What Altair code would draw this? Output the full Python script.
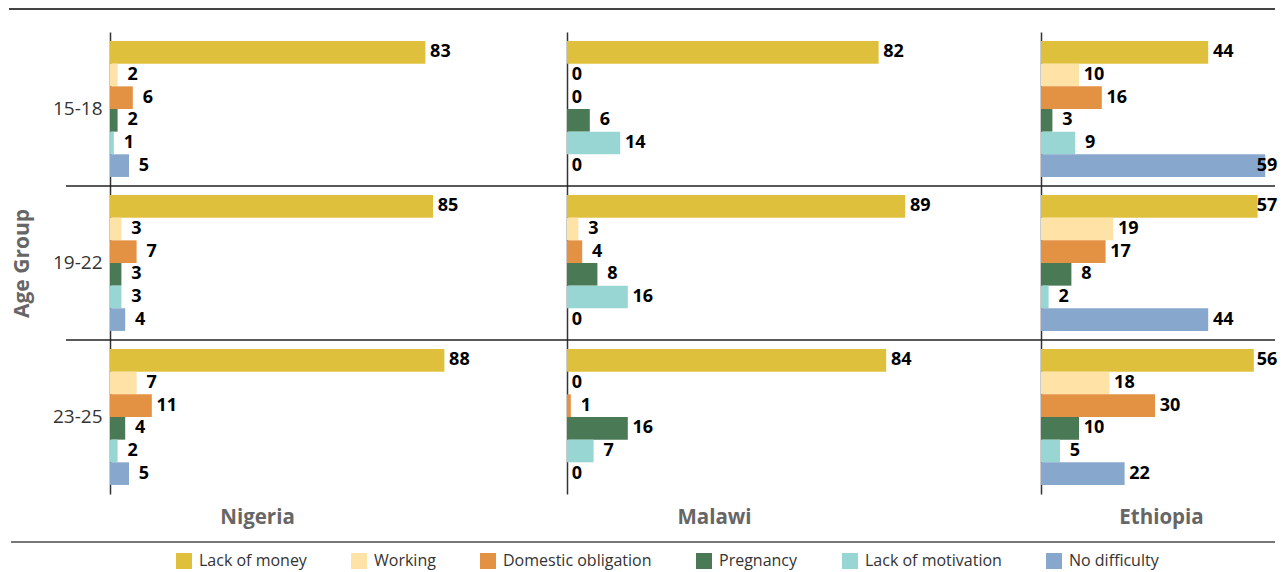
import altair as alt
import pandas as pd

ages = ["15-18", "19-22", "23-25"]
reasons = ["Lack of money", "Working", "Domestic obligation", "Pregnancy",
           "Lack of motivation", "No difficulty"]
colors = ["#DFC03C", "#FFE2A6", "#E39142", "#4A7A55", "#97D6D2", "#88A7CD"]
countries = ["Nigeria", "Malawi", "Ethiopia"]

nigeria = [[83, 2, 6, 2, 1, 5], [85, 3, 7, 3, 3, 4], [88, 7, 11, 4, 2, 5]]
malawi = [[82, 0, 0, 6, 14, 0], [89, 3, 4, 8, 16, 0], [84, 0, 1, 16, 7, 0]]
ethiopia = [[44, 10, 16, 3, 9, 59], [57, 19, 17, 8, 2, 44], [56, 18, 30, 10, 5, 22]]
separators = ["19-22", "23-25"]

values = {"Nigeria": nigeria, "Malawi": malawi, "Ethiopia": ethiopia}
rows = []
for c in countries:
    for i, a in enumerate(ages):
        for j, r in enumerate(reasons):
            rows.append({"country": c, "age": a, "reason": r, "value": values[c][i][j]})
df = pd.DataFrame(rows)
sep_df = pd.DataFrame({"age": separators})

PX_PER_UNIT = 3.8
H = 462
widths = {"Nigeria": 457, "Malawi": 474, "Ethiopia": 234}
title_x = {"Nigeria": 147, "Malawi": 147, "Ethiopia": 120}
FONT = "Open Sans"


def panel(country, first):
    w = widths[country]
    dmax = w / PX_PER_UNIT
    # cap the label anchor so every value label stays fully inside the page
    label_cap = (w + 3 - 26) / PX_PER_UNIT
    x = alt.X("value:Q", scale=alt.Scale(domain=[0, dmax], nice=False, zero=True),
              axis=alt.Axis(domain=False, ticks=False, labels=False, grid=False,
                            title=country, titleX=title_x[country], titleY=23,
                            titleAlign="center", titleBaseline="middle",
                            titleFontSize=20.5, titleFontWeight="bold",
                            titleColor="#666666", titleFont=FONT))
    if first:
        yaxis = alt.Axis(title="Age Group", ticks=False, grid=False,
                         domainColor="#333333", domainWidth=1.5,
                         labelFontSize=19, labelColor="#333333", labelFont=FONT,
                         labelPadding=8, titleFontSize=21, titleFontWeight="bold",
                         titleColor="#666666", titleFont=FONT, titlePadding=20)
    else:
        yaxis = alt.Axis(title=None, ticks=False, labels=False, grid=False,
                         domainColor="#333333", domainWidth=1.5)
    y = alt.Y("age:N", sort=ages, scale=alt.Scale(domain=ages, paddingInner=0, paddingOuter=0),
              axis=yaxis)
    yoff = alt.YOffset("reason:N", sort=reasons,
                       scale=alt.Scale(domain=reasons, paddingInner=0, paddingOuter=0.4))
    color = alt.Color("reason:N", scale=alt.Scale(domain=reasons, range=colors),
                      legend=alt.Legend(title=None, orient="none", direction="horizontal",
                                        legendX=66, legendY=521, symbolType="square",
                                        symbolSize=256, symbolStrokeWidth=0,
                                        labelFontSize=16, labelFont=FONT,
                                        labelColor="#333333", columnPadding=44,
                                        labelOffset=7, padding=0,
                                        labelExpr="datum.label == 'Lack of motivation' ? datum.label + '      ' : datum.label"))
    base = alt.Chart(df).transform_filter(alt.datum.country == country)
    bars = base.mark_bar(clip=True).encode(x=x, y=y, yOffset=yoff, color=color)
    lab = base.transform_calculate(tx=f"min(datum.value, {label_cap})")
    txt = lab.transform_filter(alt.datum.value != 0).mark_text(
        align="center", baseline="middle", dx=15, fontSize=18, fontWeight="bold",
        font=FONT, color="#000000"
    ).encode(x="tx:Q", y="age:N", yOffset="reason:N", text="value:Q")
    txt0 = base.transform_filter(alt.datum.value == 0).mark_text(
        align="center", baseline="middle", dx=10, fontSize=18, fontWeight="bold",
        font=FONT, color="#000000"
    ).encode(x="value:Q", y="age:N", yOffset="reason:N", text="value:Q")
    seps = alt.Chart(sep_df).mark_rule(color="#222222", strokeWidth=1.5).encode(
        y=alt.Y("age:N", sort=ages, bandPosition=0),
        x=alt.value(-44 if first else 0), x2=alt.value(w))
    one = alt.Data(values=[{"k": 1}])
    top = alt.Chart(one).mark_rule(color="#444444", strokeWidth=2).encode(
        x=alt.value(-101 if first else 0), x2=alt.value(w), y=alt.value(-23))
    bottom = alt.Chart(one).mark_rule(color="#777777", strokeWidth=2).encode(
        x=alt.value(-99 if first else 0), x2=alt.value(w), y=alt.value(H + 48))
    return alt.layer(bars, txt, txt0, seps, top, bottom).properties(width=w, height=H)


chart = alt.hconcat(
    *[panel(c, i == 0) for i, c in enumerate(countries)],
    spacing=0, bounds="flush"
).resolve_scale(x="independent").properties(
    padding={"left": 0, "top": 0, "right": 0, "bottom": 6}
).configure(font=FONT).configure_view(strokeWidth=0, stroke="transparent")

chart.save("out.html", embed_options={"renderer": "svg", "actions": False})
